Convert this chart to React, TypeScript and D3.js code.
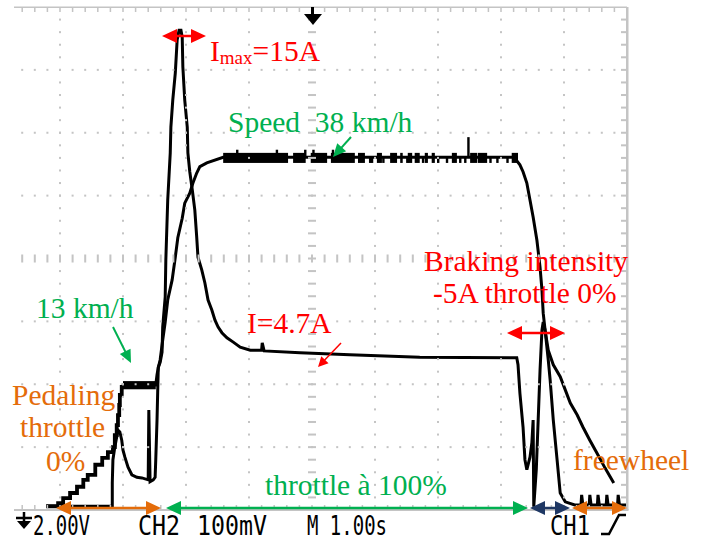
import React from 'react';
import * as d3 from 'd3';

type P = [number, number];

// Time axis: M 1.00 s/div, 10 divisions. Vertical: 8 divisions (CH1 2.00V/div speed, CH2 100mV/div current)
const X_DIVS = 10;
const Y_DIVS = 8;

// Speed trace (CH1), start ramp while pedaling (stair-stepped)
const speedStart: P[] = [
  [0.78, 0.06], [0.97, 0.11], [1.05, 0.19], [1.16, 0.27], [1.27, 0.37], [1.37, 0.48],
  [1.44, 0.56], [1.56, 0.72], [1.67, 0.83], [1.76, 0.92], [1.84, 1.0], [1.87, 1.19],
  [1.9, 1.35], [1.92, 1.51], [1.94, 1.67], [1.95, 1.83], [1.98, 1.99],
];
// Speed trace, rest
const speedMain: P[] = [
  [1.98, 1.99], [2.52, 1.99], [2.54, 2.15], [2.56, 2.26], [2.59, 2.39], [2.63, 2.7],
  [2.67, 2.99], [2.71, 3.34], [2.78, 3.66], [2.83, 4.02], [2.87, 4.33], [2.94, 4.64],
  [2.98, 4.88], [3.06, 5.04], [3.11, 5.2], [3.17, 5.36], [3.22, 5.46], [3.33, 5.52],
  [3.59, 5.61], [8.21, 5.61], [8.24, 5.57], [8.3, 5.49], [8.35, 5.38], [8.41, 5.2],
  [8.46, 4.93], [8.51, 4.66], [8.57, 4.29], [8.62, 3.86], [8.65, 3.5], [8.67, 3.13],
  [8.7, 2.86], [8.75, 2.54], [8.83, 2.31], [8.94, 2.12], [9.02, 1.91], [9.1, 1.7],
  [9.21, 1.51], [9.3, 1.32], [9.41, 1.11], [9.52, 0.91], [9.65, 0.67], [9.79, 0.43],
];
// thick noisy band of the 13 km/h plateau [t0, t1, vLow, vHigh]
const speedLowBand: [number, number, number, number][] = [[2.0, 2.52, 1.92, 2.05]];
// thick noisy sections of the 38 km/h plateau [t0, t1]
const speedBands: P[] = [
  [3.59, 4.62], [4.7, 4.9], [4.98, 5.24], [5.3, 5.68], [5.73, 5.84], [6.03, 6.11],
  [6.24, 6.35], [6.4, 6.44], [6.52, 6.59], [6.63, 6.71], [6.79, 6.84], [6.9, 6.95],
  [7.22, 7.3], [7.51, 7.62], [7.63, 7.78], [8.17, 8.27],
];
const speedBandRange: P = [5.52, 5.68];
const speedDownTicks: number[] = [5.92, 5.95, 6.13, 6.51, 6.76, 7.0, 7.14, 7.35, 7.43, 7.83, 7.94, 8.1];
const speedUpSpikes: P[] = [[3.81, 5.73], [4.44, 5.73], [4.89, 5.73], [5.02, 5.73], [5.33, 5.73], [7.48, 5.93]];

// Current trace (CH2)
const current: P[] = [
  [0.78, 0.06], [1.83, 0.06], [1.83, 0.43], [1.84, 0.8], [1.87, 1.0], [1.9, 1.16],
  [1.92, 1.27], [1.95, 1.24], [1.98, 1.11], [2.0, 0.95], [2.03, 0.84], [2.08, 0.68],
  [2.14, 0.56], [2.22, 0.52], [2.3, 0.51], [2.4, 0.48], [2.41, 1.59], [2.43, 0.45],
  [2.48, 0.48], [2.51, 0.52], [2.52, 0.8], [2.54, 1.43], [2.56, 2.27], [2.59, 2.35],
  [2.62, 2.51], [2.63, 2.91], [2.67, 3.39], [2.68, 3.98], [2.71, 4.93], [2.75, 5.68],
  [2.76, 6.09], [2.79, 6.52], [2.83, 6.95], [2.86, 7.48], [2.89, 7.63], [2.92, 7.63],
  [2.94, 7.52], [2.95, 7.05], [2.98, 6.52], [3.02, 6.09], [3.03, 5.68], [3.06, 5.38],
  [3.1, 5.09], [3.14, 4.77], [3.17, 4.34], [3.19, 4.02], [3.25, 3.82], [3.3, 3.61],
  [3.35, 3.34], [3.41, 3.18], [3.46, 3.02], [3.51, 2.91], [3.57, 2.82], [3.65, 2.74],
  [3.75, 2.67], [3.86, 2.59], [4.02, 2.54], [4.2, 2.54], [4.21, 2.66], [4.24, 2.53],
  [4.81, 2.5], [5.6, 2.47], [6.71, 2.43], [8.25, 2.42], [8.27, 2.31], [8.3, 1.86],
  [8.35, 1.32], [8.38, 0.8], [8.41, 0.64], [8.46, 0.84], [8.49, 1.07], [8.51, 1.43],
  [8.52, 0.05], [8.56, 0.64], [8.59, 1.43], [8.62, 2.23], [8.65, 2.86], [8.67, 2.99],
  [8.7, 2.86], [8.75, 2.39], [8.78, 2.07], [8.83, 1.43], [8.89, 0.8], [8.94, 0.27],
  [9.02, 0.13], [9.17, 0.08], [9.27, 0.08], [9.28, 0.24], [9.3, 0.08], [9.4, 0.08],
  [9.41, 0.24], [9.43, 0.08], [9.53, 0.08], [9.54, 0.24], [9.56, 0.08], [9.67, 0.08],
  [9.68, 0.24], [9.7, 0.08], [9.85, 0.08], [9.86, 0.24], [9.88, 0.08], [10, 0.08],
];

const bottomLabels: { text: string; x0: number; x1: number }[] = [
  { text: '2.00V', x0: 33, x1: 90 },
  { text: 'CH2', x0: 138, x1: 180 },
  { text: '100mV', x0: 197, x1: 267 },
  { text: 'M 1.00s', x0: 307, x1: 387 },
  { text: 'CH1', x0: 550, x1: 590 },
];

const RED = '#ff0000';
const GREEN = '#00b050';
const ORANGE = '#e46c0a';
const NAVY = '#1f3864';
const GRID = '#c4c4c4';
const SERIF = '"Liberation Serif", "Times New Roman", serif';

function head(tx: number, ty: number, fx: number, fy: number, len: number, hw: number) {
  const dx = tx - fx, dy = ty - fy;
  const L = Math.hypot(dx, dy);
  const ux = dx / L, uy = dy / L;
  const bx = tx - ux * len, by = ty - uy * len;
  const px = -uy * hw, py = ux * hw;
  return `${tx},${ty} ${bx + px},${by + py} ${bx - px},${by - py}`;
}

function Arrow({ x1, y1, x2, y2, color, w = 2, len = 13, hw = 6 }: any) {
  const dx = x2 - x1, dy = y2 - y1;
  const L = Math.hypot(dx, dy);
  const ex = x2 - (dx / L) * (len - 1), ey = y2 - (dy / L) * (len - 1);
  return (
    <g>
      <line x1={x1} y1={y1} x2={ex} y2={ey} stroke={color} strokeWidth={w} />
      <polygon points={head(x2, y2, x1, y1, len, hw)} fill={color} />
    </g>
  );
}

function DoubleArrow({ x1, x2, y, color, w = 2.5, len = 15, hw = 7 }: any) {
  return (
    <g>
      <line x1={x1 + len - 1} y1={y} x2={x2 - len + 1} y2={y} stroke={color} strokeWidth={w} />
      <polygon points={head(x1, y, x2, y, len, hw)} fill={color} />
      <polygon points={head(x2, y, x1, y, len, hw)} fill={color} />
    </g>
  );
}

export default function App() {
  const x = d3.scaleLinear().domain([0, X_DIVS]).range([-3, 627]);
  const y = d3.scaleLinear().domain([0, Y_DIVS]).range([510, 7]);
  const lin = d3.line<P>().x((d) => x(d[0])).y((d) => y(d[1]));
  const step = d3.line<P>().x((d) => x(d[0])).y((d) => y(d[1])).curve(d3.curveStepAfter);

  const minorT = d3.range(1, 50).map((i) => i * 0.2).filter((t) => x(t) >= 14);
  const minorV = d3.range(1, 40).map((i) => i * 0.2);
  const vLines = [1, 2, 3, 4, 6, 7, 8, 9];
  const hLines = [1, 2, 3, 5, 6, 7];

  const traceStyle = { fill: 'none', stroke: '#000', strokeWidth: 3, strokeLinejoin: 'miter' as const };

  return (
    <svg width={703} height={540} style={{ position: 'absolute', left: 0, top: 0, background: '#fff' }}>
      {/* traces */}
      <g>
        <path d={step(speedStart) || ''} {...traceStyle} strokeWidth={3.8} />
        <path d={lin(speedMain) || ''} {...traceStyle} />
        <path d={lin(current) || ''} {...traceStyle} />
        {speedLowBand.map((b, i) => (
          <rect key={'lb' + i} x={x(b[0])} y={y(b[3])} width={x(b[1]) - x(b[0])} height={y(b[2]) - y(b[3])} fill="#000" />
        ))}
        {speedBands.map((b, i) => (
          <rect key={'sb' + i} x={x(b[0])} y={y(speedBandRange[1])} width={x(b[1]) - x(b[0])}
            height={y(speedBandRange[0]) - y(speedBandRange[1])} fill="#000" />
        ))}
        {speedDownTicks.map((t, i) => (
          <rect key={'dt' + i} x={x(t) - 1} y={y(5.61)} width={2.4} height={y(speedBandRange[0]) - y(5.61)} fill="#000" />
        ))}
        {speedUpSpikes.map((s, i) => (
          <rect key={'us' + i} x={x(s[0]) - 1} y={y(s[1])} width={2.4} height={y(5.61) - y(s[1])} fill="#000" />
        ))}
      </g>

      {/* graticule drawn over the traces */}
      <g fill={GRID}>
        {vLines.map((t) =>
          minorV.map((v) => <rect key={`v${t}-${v}`} x={x(t) - 1} y={y(v) - 1} width={2} height={2} />)
        )}
        {hLines.map((v) =>
          minorT.map((t) => <rect key={`h${v}-${t}`} x={x(t) - 1} y={y(v) - 1} width={2} height={2} />)
        )}
        {minorV.map((v) => <rect key={`cv${v}`} x={x(5) - 4} y={y(v) - 1} width={8} height={2} />)}
        {minorT.map((t) => <rect key={`ch${t}`} x={x(t) - 1} y={y(4) - 4} width={2} height={8} />)}
        {/* borders with ticks */}
        <rect x={x(10) - 1} y={y(8)} width={2.5} height={y(0) - y(8)} />
        <rect x={14} y={y(8) - 0.5} width={x(10) - 14} height={1.5} />
        <rect x={14} y={y(0) - 1} width={x(10) - 14 + 1.5} height={2} />
        {minorV.map((v) => <rect key={`rt${v}`} x={x(10) - 6} y={y(v) - 1} width={6} height={2} />)}
        {minorT.map((t) => <rect key={`tt${t}`} x={x(t) - 0.75} y={y(8)} width={1.5} height={5} />)}
        {minorT.map((t) => <rect key={`bt${t}`} x={x(t) - 0.75} y={y(0) - 5} width={1.5} height={5} />)}
      </g>

      {/* trigger position marker */}
      <g fill="#000">
        <rect x={311} y={7} width={3} height={10} />
        <polygon points="304,14 322,14 313,25" />
      </g>

      {/* bottom status line */}
      <g fill="#000" fontFamily='"DejaVu Sans Mono", monospace' fontSize={26}>
        <path d="M16,518 H32 M24,512 V523" stroke="#000" strokeWidth={2.5} />
        <polygon points="17,521 31,521 24,529" />
        {bottomLabels.map((l) => (
          <text key={l.text} x={l.x0} y={535} textLength={l.x1 - l.x0} lengthAdjust="spacingAndGlyphs">
            {l.text}
          </text>
        ))}
        <path d="M601,534 H609 L619,515 H626" fill="none" stroke="#000" strokeWidth={2.5} />
      </g>

      {/* annotations */}
      <g fontFamily={SERIF} fontSize={29.5}>
        <DoubleArrow x1={162} x2={206} y={36} color={RED} />
        <text x={210} y={61} fill={RED}>
          I<tspan fontSize={19} dy={3}>max</tspan><tspan dy={-3}>=15A</tspan>
        </text>

        <text x={228} y={132} fill={GREEN}>{'Speed\u00a0\u00a038 km/h'}</text>
        <Arrow x1={351} y1={137} x2={333} y2={157} color={GREEN} len={13} hw={6} />

        <text x={36} y={318} fill={GREEN}>13 km/h</text>
        <Arrow x1={113} y1={327} x2={131} y2={363} color={GREEN} len={13} hw={6} />

        <text x={247} y={333} fill={RED}>I=4.7A</text>
        <Arrow x1={341} y1={343} x2={318} y2={367} color={RED} w={1.5} len={10} hw={5} />

        <text x={424} y={271} fill={RED}>Braking intensity</text>
        <text x={433} y={303} fill={RED}>-5A throttle 0%</text>
        <DoubleArrow x1={507} x2={565} y={333} color={RED} />

        <text x={12} y={405} fill={ORANGE}>Pedaling</text>
        <text x={20} y={437} fill={ORANGE}>throttle</text>
        <text x={46} y={471} fill={ORANGE}>0%</text>

        <text x={265} y={495} fill={GREEN}>throttle à 100%</text>
        <text x={573} y={470} fill={ORANGE}>freewheel</text>

        <DoubleArrow x1={56} x2={161} y={508} color={ORANGE} />
        <DoubleArrow x1={166} x2={528} y={508} color={GREEN} />
        <DoubleArrow x1={530} x2={570} y={508} color={NAVY} />
        <DoubleArrow x1={572} x2={627} y={508} color={ORANGE} />
      </g>
    </svg>
  );
}
